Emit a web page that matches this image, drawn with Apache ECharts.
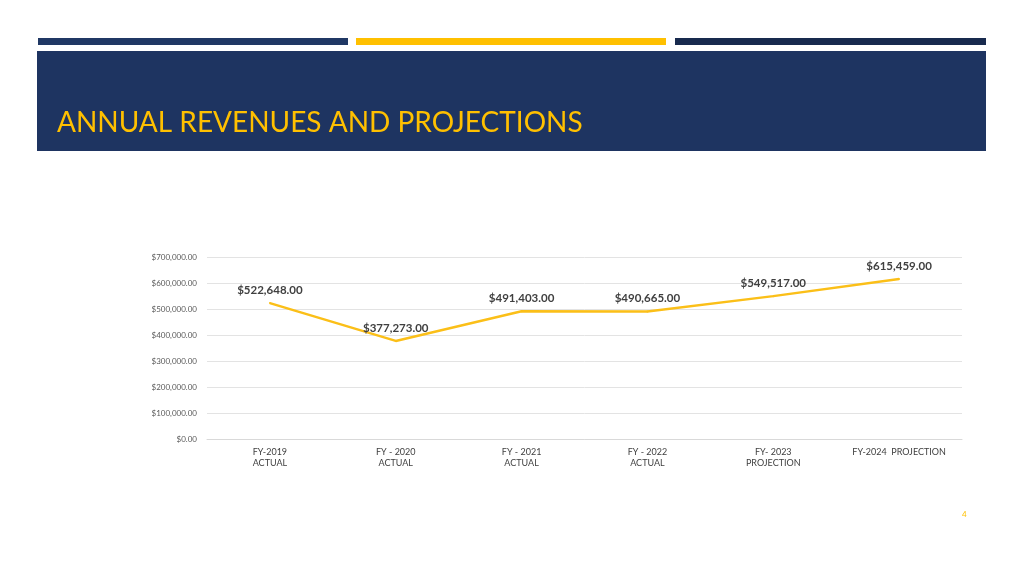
<!DOCTYPE html>
<html>
<head>
<meta charset="utf-8">
<script src="https://cdn.jsdelivr.net/npm/echarts@6/dist/echarts.min.js"></script>
<style>
html,body{margin:0;padding:0;background:#fff;}
#c{width:1024px;height:576px;}
</style>
</head>
<body>
<div id="c"></div>
<script>
const categories = ['FY-2019\nACTUAL', 'FY - 2020\nACTUAL', 'FY - 2021\nACTUAL', 'FY - 2022\nACTUAL', 'FY- 2023\nPROJECTION', 'FY-2024  PROJECTION'];
const revenues = [522648, 377273, 491403, 490665, 549517, 615459];
const yTicks = [0, 100000, 200000, 300000, 400000, 500000, 600000, 700000];
const titleText = 'ANNUAL REVENUES AND PROJECTIONS';
const pageNumber = '4';

function money(v) {
  return '$' + Number(v).toLocaleString('en-US', {minimumFractionDigits: 2, maximumFractionDigits: 2});
}

const chart = echarts.init(document.getElementById('c'), null, {renderer: 'canvas'});
const font = 'Lato, "Open Sans", sans-serif';
chart.setOption({
  animation: false,
  backgroundColor: '#ffffff',
  graphic: [
    {type: 'rect', shape: {x: 38, y: 38, width: 310, height: 7}, style: {fill: '#203864'}},
    {type: 'rect', shape: {x: 356, y: 38, width: 310, height: 7}, style: {fill: '#ffc000'}},
    {type: 'rect', shape: {x: 675, y: 38, width: 311, height: 7}, style: {fill: '#182a4e'}},
    {type: 'rect', shape: {x: 37, y: 51, width: 949, height: 100}, style: {fill: '#1e3461'}},
    {type: 'text', left: 57, top: 109, style: {text: titleText, fill: '#ffc000', font: '28px Lato, sans-serif'}},
    {type: 'text', left: 962, top: 510, style: {text: pageNumber, fill: '#ffc000', font: '8px ' + font}}
  ],
  grid: {left: 207, right: 62, top: 257, bottom: 137, containLabel: false},
  xAxis: {
    type: 'category',
    data: categories,
    boundaryGap: true,
    axisLine: {show: true, lineStyle: {color: '#d9d9d9', width: 1}},
    axisTick: {show: false},
    axisLabel: {color: '#404040', fontSize: 9, fontFamily: font, lineHeight: 11, margin: 8, interval: 0}
  },
  yAxis: {
    type: 'value',
    min: 0, max: 700000, interval: 100000,
    axisLine: {show: false},
    axisTick: {show: false},
    splitLine: {lineStyle: {color: '#e3e3e3', width: 1}},
    axisLabel: {color: '#595959', fontSize: 8, fontFamily: font, margin: 10,
      formatter: function (v) { return yTicks.indexOf(v) >= 0 ? money(v) : ''; }}
  },
  series: [{
    type: 'line',
    data: revenues,
    showSymbol: true,
    symbol: 'circle',
    symbolSize: 2,
    itemStyle: {color: '#fbbf18'},
    lineStyle: {color: '#fbbf18', width: 2.5},
    label: {show: true, position: 'top', distance: 6, color: '#404040', fontSize: 11.5, fontWeight: 'bold', fontFamily: font,
      formatter: function (p) { return money(p.value); }}
  }]
});
</script>
</body>
</html>
